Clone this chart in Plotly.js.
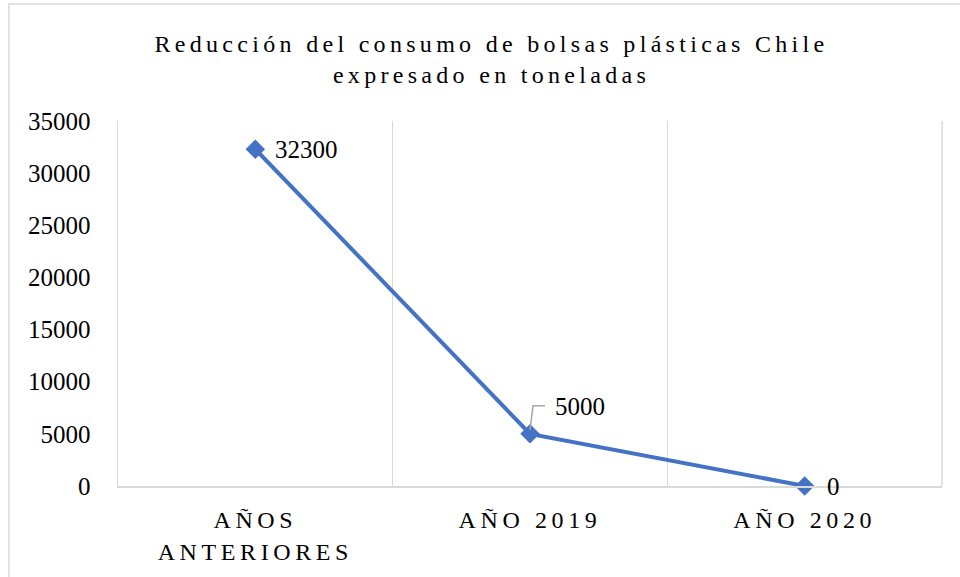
<!DOCTYPE html>
<html>
<head>
<meta charset="utf-8">
<script src="https://cdn.plot.ly/plotly-3.0.1.min.js"></script>
<style>
html, body { margin: 0; padding: 0; background: #fff; }
#chart { width: 960px; height: 577px; }
#chart .gtitle { letter-spacing: 4.3px; }
#chart .xtick text { letter-spacing: 4.6px; }
</style>
</head>
<body>
<div id="chart"></div>
<script>
const categories = ["AÑOS<br>ANTERIORES", "AÑO 2019", "AÑO 2020"];
const values = [32300, 5000, 0];
const labelText = ["32300", "5000", "0"];
const titleText = "Reducción del consumo de bolsas plásticas Chile<br>expresado en toneladas";
const yTicks = [0, 5000, 10000, 15000, 20000, 25000, 30000, 35000];

const serif = "'Liberation Serif'";
const blue = "#4472C4";
const grid = "#d9d9d9";

const trace = {
  x: categories,
  y: values,
  type: "scatter",
  mode: "lines+markers",
  line: { color: blue, width: 4 },
  marker: { symbol: "diamond", size: 15, color: blue },
  hoverinfo: "skip",
  cliponaxis: false
};

// pixel offsets of each data label from its point (Excel-like placement)
const offs = [
  { dx: 18, dy: 0, leader: false },
  { dx: 23, dy: 27, leader: true },
  { dx: 20, dy: 0, leader: false }
];

const annotations = values.map((v, i) => ({
  x: categories[i], y: v, xref: "x", yref: "y",
  text: labelText[i],
  showarrow: false,
  xshift: offs[i].dx, yshift: offs[i].dy,
  xanchor: "left", yanchor: "middle",
  font: { family: serif, size: 25, color: "#000" }
}));

// elbow leader lines, anchored at the data point
const leaders = values.map((v, i) => offs[i].leader ? ({
  type: "path", xref: "x", yref: "y",
  xsizemode: "pixel", ysizemode: "pixel",
  xanchor: i, yanchor: v,
  path: "M 0 4 L 3 28 L 15 28",
  line: { color: "#a6a6a6", width: 1.5 }, layer: "above"
}) : null).filter(Boolean);

const layout = {
  width: 960, height: 577,
  margin: { l: 118, r: 18, t: 121, b: 91 },
  paper_bgcolor: "#fff", plot_bgcolor: "#fff",
  showlegend: false,
  font: { family: serif },
  title: {
    text: titleText,
    font: { family: serif, size: 24, color: "#000" },
    x: 0.512, xanchor: "center", xref: "container",
    y: 1 - 52 / 577, yref: "container", yanchor: "top"
  },
  xaxis: {
    type: "category",
    range: [-0.5, 2.5],
    tickson: "boundaries",
    showgrid: true, gridcolor: grid, gridwidth: 1.5,
    showline: true, linecolor: grid, linewidth: 1.5,
    ticks: "", ticklen: 0, ticklabelstandoff: 12,
    tickfont: { family: serif, size: 24, color: "#000" },
    fixedrange: true
  },
  yaxis: {
    range: [0, 35000],
    tickvals: yTicks,
    ticktext: yTicks.map(String),
    showgrid: false, zeroline: false,
    showline: true, linecolor: grid, linewidth: 1.5,
    ticks: "", ticklabelstandoff: 21,
    tickfont: { family: serif, size: 25, color: "#000" },
    fixedrange: true
  },
  annotations: annotations,
  shapes: [
    { type: "line", xref: "paper", yref: "paper", x0: 1, x1: 1, y0: 0, y1: 1,
      line: { color: grid, width: 1.5 } },
    { type: "rect", xref: "paper", yref: "paper",
      x0: (9 - 118) / 824, x1: 1.2, y0: -0.5, y1: (486 - 4) / 365,
      line: { color: grid, width: 1.5 }, fillcolor: "rgba(0,0,0,0)", layer: "below" }
  ].concat(leaders)
};

Plotly.newPlot("chart", [trace], layout, { displayModeBar: false, staticPlot: true });
</script>
</body>
</html>
